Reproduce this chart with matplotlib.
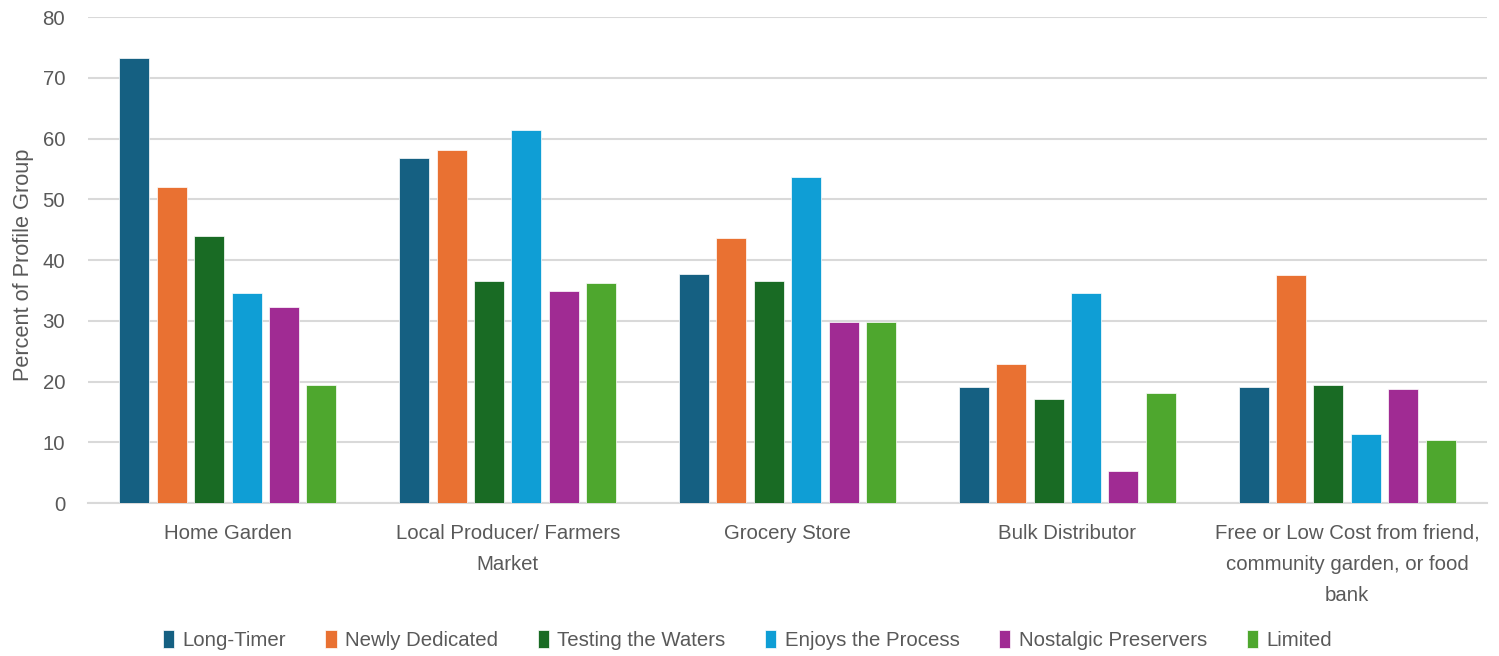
import matplotlib.pyplot as plt
import numpy as np

plt.rcParams['font.family'] = ['Liberation Sans', 'DejaVu Sans']

categories = ['Home Garden', 'Local Producer/ Farmers\nMarket', 'Grocery Store',
              'Bulk Distributor',
              'Free or Low Cost from friend,\ncommunity garden, or food\nbank']
groups = ['Long-Timer', 'Newly Dedicated', 'Testing the Waters',
          'Enjoys the Process', 'Nostalgic Preservers', 'Limited']

long_timer = [73.3, 56.8, 37.7, 19.1, 19.1]
newly_dedicated = [52.0, 58.1, 43.6, 22.9, 37.5]
testing_waters = [43.9, 36.5, 36.5, 17.1, 19.4]
enjoys_process = [34.6, 61.4, 53.7, 34.6, 11.4]
nostalgic = [32.3, 34.9, 29.8, 5.3, 18.8]
limited = [19.4, 36.2, 29.8, 18.1, 10.4]

series = [long_timer, newly_dedicated, testing_waters, enjoys_process, nostalgic, limited]
colors = ['#156082', '#E97132', '#196B24', '#0F9ED5', '#A02B93', '#4EA72E']

text_color = '#595959'
grid_color = '#D9D9D9'
fs = 14.7

fig = plt.figure(figsize=(14.99, 6.56), dpi=100)
ax = fig.add_axes([0.0587, 0.2332, 0.9333, 0.7408])

x = np.arange(len(categories))
step = 0.1336
width = 0.107
for i, (vals, col, name) in enumerate(zip(series, colors, groups)):
    ax.bar(x + (i - 2.5) * step, vals, width, color=col, label=name,
           edgecolor='white', linewidth=0.5, zorder=3)

ax.set_xlim(-0.5, len(categories) - 0.5)
ax.set_ylim(0, 80)
ax.set_yticks(range(0, 81, 10))
ax.yaxis.grid(True, color=grid_color, linewidth=1.5, zorder=0)
ax.set_axisbelow(True)
for s in ['top', 'right', 'left']:
    ax.spines[s].set_visible(False)
ax.spines['bottom'].set_color(grid_color)
ax.spines['bottom'].set_linewidth(1.5)

ax.set_xticks(x)
ax.set_xticklabels(categories, fontsize=fs, color=text_color, linespacing=1.8,
                   va='top')
ax.tick_params(axis='x', length=0, pad=15)
ax.tick_params(axis='y', length=0, pad=16.5, labelsize=fs, labelcolor=text_color)

ax.set_ylabel('Percent of Profile Group', fontsize=15.7, color=text_color)
ax.yaxis.set_label_coords(-0.0386, 0.49)

leg = fig.legend(loc='center', bbox_to_anchor=(0.4985, 0.025), ncol=6, frameon=False,
                 fontsize=fs, handlelength=0.55, handleheight=1.0, handletextpad=0.4,
                 columnspacing=1.95)
for t in leg.get_texts():
    t.set_color(text_color)

fig.savefig('out.png', dpi=100)
